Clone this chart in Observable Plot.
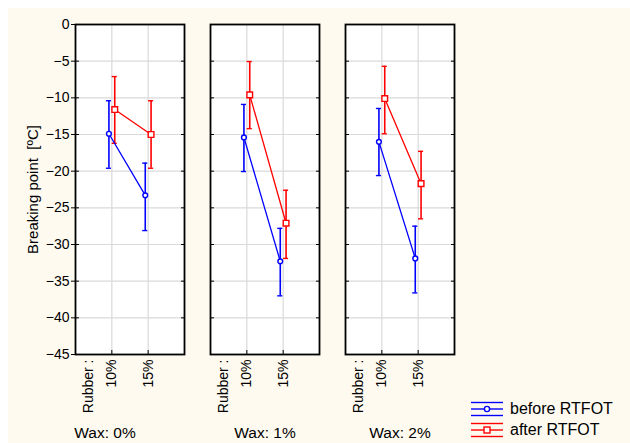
<!DOCTYPE html>
<html>
<head>
<meta charset="utf-8">
<script src="https://cdn.jsdelivr.net/npm/d3@7"></script>
<script src="https://cdn.jsdelivr.net/npm/@observablehq/plot@0.6"></script>
<style>
  body { margin: 0; background: #fff; }
  #wrap { position: relative; width: 630px; height: 443px; font-family: "Liberation Sans", Arial, sans-serif; }
  #paper { position: absolute; left: 8px; top: 8px; right: 0; bottom: 0; background: #fefaf0; }
  #chart { position: absolute; left: 0; top: 0; }
  #legend { position: absolute; left: 471px; top: 398px; font-size: 16px; color: #000; }
  #legend .row { display: flex; align-items: center; height: 21px; }
  #legend svg { margin-right: 7px; }
</style>
</head>
<body>
<div id="wrap">
  <div id="paper"></div>
  <div id="chart"></div>
  <div id="legend"></div>
</div>
<script>
// Facets (wax content) and categories (rubber content)
const waxLevels = ["0%", "1%", "2%"];
const rubberLevels = ["10%", "15%"];
const seriesNames = ["before RTFOT", "after RTFOT"];
const seriesColors = ["#0000ff", "#ff0000"];
const yTicks = [0, -5, -10, -15, -20, -25, -30, -35, -40, -45];

// Breaking point means and confidence limits, ordered wax 0/1/2 × rubber 10/15
const beforeMean  = [-14.9, -23.3, -15.4, -32.3, -16.0, -31.9];
const beforeUpper = [-10.4, -18.9, -10.9, -27.8, -11.45, -27.5];
const beforeLower = [-19.6, -28.1, -20.05, -37.0, -20.6, -36.6];
const afterMean   = [-11.6, -15.0, -9.6, -27.1, -10.1, -21.7];
const afterUpper  = [-7.1, -10.4, -5.05, -22.6, -5.7, -17.3];
const afterLower  = [-16.2, -19.6, -14.2, -31.9, -14.9, -26.5];

const rows = [];
waxLevels.forEach((wax, wi) => {
  rubberLevels.forEach((rubber, ri) => {
    const k = wi * rubberLevels.length + ri;
    rows.push({wax, rubber: ri + 1, series: seriesNames[0], mean: beforeMean[k], lo: beforeLower[k], hi: beforeUpper[k]});
    rows.push({wax, rubber: ri + 1, series: seriesNames[1], mean: afterMean[k], lo: afterLower[k], hi: afterUpper[k]});
  });
});

// small horizontal dodge so the two series' bars don't overlap
const dodge = d => d.rubber + (d.series === seriesNames[0] ? -0.08 : 0.08);
const cap = 0.07;

const chart = Plot.plot({
  width: 630,
  height: 443,
  marginLeft: 75,
  marginRight: 176,
  marginTop: 24,
  marginBottom: 89,
  style: {background: "transparent", fontFamily: "'Liberation Sans', Arial, sans-serif", fontSize: "14px", color: "#000", overflow: "visible"},
  fx: {domain: waxLevels, padding: 0.193, label: null, axis: null},
  x: {domain: [0, 3]},
  y: {domain: [-45, 0]},
  color: {domain: seriesNames, range: seriesColors},
  marks: [
    Plot.frame({fill: "#fff"}),
    Plot.gridY({ticks: yTicks, stroke: "#dadada", strokeOpacity: 1, strokeWidth: 1.2}),
    Plot.gridX({ticks: [1, 2], stroke: "#dadada", strokeOpacity: 1, strokeWidth: 1.2}),
    // y axis labels on the first panel only, outward ticks
    Plot.axisY({ticks: yTicks, tickSize: 4, tickPadding: 2, label: null, fontSize: 14}),
    // inward ticks on both sides of every panel
    Plot.axisY({ticks: yTicks, anchor: "left", tickSize: -4, fill: "none", label: null, facetAnchor: null}),
    Plot.axisY({ticks: yTicks, anchor: "right", tickSize: -4, fill: "none", label: null, facetAnchor: null}),
    // rubber category labels
    Plot.axisX({ticks: [1, 2], tickFormat: i => rubberLevels[i - 1], tickSize: -4, tickPadding: 9, tickRotate: -90, label: null, fontSize: 14}),
    Plot.text(waxLevels, {fx: d => d, x: () => 1, frameAnchor: "bottom", text: () => "Rubber :", rotate: -90, textAnchor: "end", dx: -19, dy: 5, fontSize: 14}),
    // facet titles; the first one is centred under its panel and the y axis together
    Plot.text(waxLevels.slice(0, 1), {fx: d => d, frameAnchor: "bottom", text: d => `Wax: ${d}`, textAnchor: "middle", lineAnchor: "middle", dx: -25, dy: 79, fontSize: 15.5}),
    Plot.text(waxLevels.slice(1), {fx: d => d, frameAnchor: "bottom", text: d => `Wax: ${d}`, textAnchor: "middle", lineAnchor: "middle", dy: 79, fontSize: 15.5}),
    // y axis title
    Plot.text(waxLevels.slice(0, 1), {fx: d => d, frameAnchor: "left", text: () => "Breaking point  [ºC]", rotate: -90, textAnchor: "middle", lineAnchor: "middle", dx: -42, fontSize: 15}),
    Plot.frame({stroke: "#000", strokeWidth: 1.8}),
    // error bars
    Plot.ruleX(rows, {fx: "wax", x: dodge, y1: "lo", y2: "hi", stroke: "series", strokeWidth: 1.6}),
    Plot.ruleY(rows, {fx: "wax", y: "lo", x1: d => dodge(d) - cap, x2: d => dodge(d) + cap, stroke: "series", strokeWidth: 1.4}),
    Plot.ruleY(rows, {fx: "wax", y: "hi", x1: d => dodge(d) - cap, x2: d => dodge(d) + cap, stroke: "series", strokeWidth: 1.4}),
    // means joined across rubber content
    Plot.line(rows, {fx: "wax", x: dodge, y: "mean", z: "series", stroke: "series", strokeWidth: 1.3}),
    Plot.dot(rows.filter(d => d.series === seriesNames[0]), {fx: "wax", x: dodge, y: "mean", stroke: "series", fill: "#fff", r: 2.4, strokeWidth: 1.4, symbol: "circle"}),
    Plot.dot(rows.filter(d => d.series === seriesNames[1]), {fx: "wax", x: dodge, y: "mean", stroke: "series", fill: "#fff", r: 3.2, strokeWidth: 1.4, symbol: "square"})
  ]
});
document.getElementById("chart").appendChild(chart);

// legend
const legend = document.getElementById("legend");
seriesNames.forEach((name, i) => {
  const c = seriesColors[i];
  const marker = i === 0
    ? `<circle cx="16" cy="10" r="2.6" fill="#fff" stroke="${c}" stroke-width="1.4"/>`
    : `<rect x="13" y="7" width="6" height="6" fill="#fff" stroke="${c}" stroke-width="1.4"/>`;
  const row = document.createElement("div");
  row.className = "row";
  row.innerHTML = `<svg width="32" height="20">
    <line x1="0" x2="32" y1="3.5" y2="3.5" stroke="${c}" stroke-width="1.4"/>
    <line x1="0" x2="32" y1="10" y2="10" stroke="${c}" stroke-width="1.4"/>
    <line x1="0" x2="32" y1="16.5" y2="16.5" stroke="${c}" stroke-width="1.4"/>
    ${marker}</svg><span>${name}</span>`;
  legend.appendChild(row);
});
</script>
</body>
</html>
